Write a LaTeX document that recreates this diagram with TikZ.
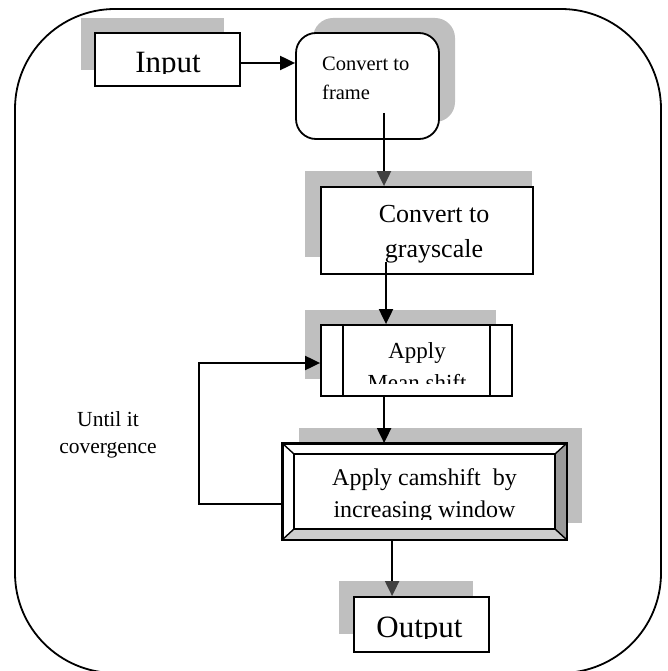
\documentclass[tikz,border=0pt]{standalone}
\usepackage{fontspec}
\setmainfont{Liberation Serif}
\usetikzlibrary{arrows.meta,calc}
\definecolor{shadowgray}{HTML}{BFBFBF}
\definecolor{tipgray}{HTML}{404040}
\definecolor{facetdark}{HTML}{9A9A9A}
\definecolor{facetlight}{HTML}{CDCDCD}
\begin{document}
\begin{tikzpicture}[x=1pt,y=-1pt,
  box/.style={draw, line width=1.8pt, fill=white, inner sep=0pt},
  flow/.style={line width=2pt, -{Triangle[length=15pt,width=14pt]}},
  flowgray/.style={line width=2pt, -{Triangle[length=15pt,width=14pt,color=tipgray]}},
  lbl/.style={anchor=base, inner sep=0pt},
  lblwest/.style={anchor=base west, inner sep=0pt},
]
\useasboundingbox (0,0) rectangle (667,671);

% outer frame
\draw[line width=1.8pt, rounded corners=100pt] (15,9) rectangle (661,673);

% block shadows
\fill[shadowgray] (81,18) rectangle (224,70);
\fill[shadowgray, rounded corners=20pt] (313,18) rectangle (455,122);
\fill[shadowgray] (305,171) rectangle (532,257);
\fill[shadowgray] (305,310) rectangle (496,379);
\fill[shadowgray] (299,428) rectangle (582,523);
\fill[shadowgray] (339,581) rectangle (473,634);

% blocks
\node[box, minimum width=145pt, minimum height=53pt] (input) at (167.5,59.5) {};
\node[box, rounded corners=20pt, minimum width=143pt, minimum height=106pt] (frame) at (367.5,86) {};
\node[box, minimum width=212pt, minimum height=87pt] (gray) at (427,230.5) {};
\node[box, minimum width=191pt, minimum height=71pt] (mean) at (416.5,360.5) {};
\draw[line width=1.8pt] ($(mean.north west)+(23,0)$) -- ($(mean.south west)+(23,0)$);
\draw[line width=1.8pt] ($(mean.north east)+(-23,0)$) -- ($(mean.south east)+(-23,0)$);

% bevelled block
\node[box, minimum width=283pt, minimum height=95pt] (cam) at (424.5,491.5) {};
\coordinate (cnw) at ($(cam.north west)+(12,11)$);
\coordinate (cne) at ($(cam.north east)+(-12,11)$);
\coordinate (csw) at ($(cam.south west)+(12,-11)$);
\coordinate (cse) at ($(cam.south east)+(-12,-11)$);
\fill[facetdark] (cam.north east) -- (cam.south east) -- (cse) -- (cne) -- cycle;
\fill[facetlight] (cam.south west) -- (cam.south east) -- (cse) -- (csw) -- cycle;
\draw[line width=1.4pt] (cnw) rectangle (cse);
\draw[line width=1.4pt] (cam.north west) -- (cnw) (cam.north east) -- (cne)
  (cam.south west) -- (csw) (cam.south east) -- (cse);
\draw[line width=1.8pt] (cam.north west) rectangle (cam.south east);

\node[box, minimum width=135pt, minimum height=55pt] (out) at (421.5,624.5) {};

% labels
\begin{scope}
  \clip (95,33) rectangle (240,74);
  \node[lbl, font=\fontsize{31}{31}\selectfont] (tin) at (168,73) {Input};
\end{scope}
\node[lblwest, font=\fontsize{20.5}{29}\selectfont] (tf1) at (322,71) {Convert to};
\node[lblwest, font=\fontsize{20.5}{29}\selectfont] (tf2) at (322,100) {frame};
\node[lbl, font=\fontsize{26}{35}\selectfont] (tg1) at (434,222) {Convert to};
\node[lbl, font=\fontsize{26}{35}\selectfont] (tg2) at (434,257) {grayscale};
\begin{scope}
  \clip (344,325) rectangle (489,383.5);
  \node[lbl, font=\fontsize{23}{32}\selectfont] (tm1) at (417,358) {Apply};
  \node[lbl, font=\fontsize{23}{32}\selectfont] (tm2) at (417,390) {Mean shift};
\end{scope}
\begin{scope}
  \clip (295,455) rectangle (554,519);
  \node[lbl, font=\fontsize{24}{32}\selectfont] (tc1) at (424.5,485) {Apply camshift\ \ by};
  \node[lbl, font=\fontsize{24}{32}\selectfont] (tc2) at (424.5,517) {increasing window};
\end{scope}
\begin{scope}
  \clip (354,597) rectangle (489,638);
  \node[lbl, font=\fontsize{31}{31}\selectfont] (tout) at (419.5,637) {Output};
\end{scope}
\node[lbl, font=\fontsize{21.5}{27}\selectfont] (tu1) at (108,426) {Until it};
\node[lbl, font=\fontsize{21.5}{27}\selectfont] (tu2) at (108,453) {covergence};

% connectors
\coordinate (ia) at ($(input.east)+(0,3.5)$);
\draw[flow] (ia) -- (ia -| frame.west);
\coordinate (fa) at (384,113);
\draw[flowgray] (fa) -- (fa |- gray.north);
\coordinate (ga) at (386,262);
\draw[flow] (ga) -- (ga |- mean.north);
\coordinate (ma) at ($(mean.south west)+(64,0)$);
\draw[flow] (ma) -- (ma |- cam.north);
\coordinate (ca) at ($(cam.south west)+(110,0)$);
\draw[flowgray] (ca) -- (ca |- out.north);
\coordinate (fb) at ($(cam.south west)+(0,-36)$);
\coordinate (fbc) at ($(fb)+(-83,0)$);
\coordinate (fbe) at ($(mean.west)+(0,2.5)$);
\draw[flow] (fb) -- (fbc) |- (fbe);
\end{tikzpicture}
\end{document}
